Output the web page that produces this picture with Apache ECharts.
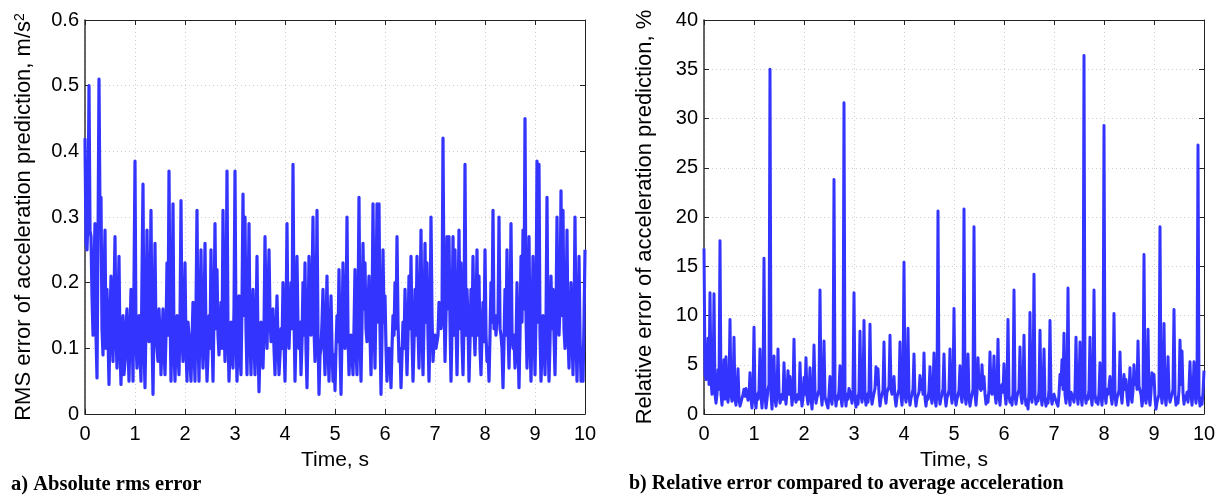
<!DOCTYPE html>
<html>
<head>
<meta charset="utf-8">
<script src="https://cdn.jsdelivr.net/npm/echarts@6/dist/echarts.min.js"></script>
<style>
html,body{margin:0;padding:0;background:#fff;}
#chart{width:1225px;height:496px;}
</style>
</head>
<body>
<div id="chart"></div>
<script>
// sample spacing of both records, seconds
const timeStep = 0.02;

// a) RMS error of acceleration prediction, m/s^2 (one value per sample, 0 ... 10 s)
const rmsError = [
  0.42,0.26, 0.25,0.30, 0.50,0.28, 0.27,0.18, 0.12,0.22, 0.29,0.12, 0.055,0.26, 0.51,0.30, 0.33,0.13, 0.09,0.20,
  0.28,0.10, 0.19,0.12, 0.045,0.14, 0.21,0.12, 0.08,0.18, 0.27,0.12, 0.07,0.16, 0.24,0.10, 0.045,0.12, 0.15,0.06,
  0.08,0.13, 0.16,0.10, 0.05,0.12, 0.19,0.14, 0.05,0.20, 0.385,0.11, 0.07,0.12, 0.15,0.09, 0.05,0.21, 0.35,0.10,
  0.04,0.14, 0.28,0.14, 0.11,0.18, 0.31,0.12, 0.03,0.14, 0.26,0.12, 0.10,0.08, 0.16,0.12, 0.06,0.11, 0.16,0.10,
  0.06,0.12, 0.23,0.12, 0.37,0.16, 0.05,0.13, 0.32,0.10, 0.05,0.11, 0.15,0.09, 0.06,0.14, 0.325,0.12, 0.08,0.13,
  0.23,0.10, 0.05,0.14, 0.12,0.08, 0.05,0.11, 0.17,0.10, 0.05,0.16, 0.31,0.12, 0.05,0.14, 0.25,0.12, 0.07,0.14,
  0.26,0.11, 0.05,0.09, 0.15,0.10, 0.25,0.12, 0.05,0.15, 0.29,0.13, 0.22,0.12, 0.09,0.13, 0.17,0.10, 0.31,0.14,
  0.08,0.16, 0.37,0.12, 0.05,0.10, 0.14,0.09, 0.07,0.16, 0.37,0.12, 0.05,0.11, 0.18,0.09, 0.06,0.17, 0.335,0.15,
  0.30,0.13, 0.06,0.15, 0.29,0.12, 0.06,0.14, 0.19,0.11, 0.06,0.13, 0.24,0.11, 0.034,0.10, 0.14,0.09, 0.07,0.13,
  0.27,0.16, 0.10,0.17, 0.25,0.15, 0.11,0.13, 0.16,0.10, 0.06,0.12, 0.18,0.11, 0.06,0.09, 0.13,0.10, 0.20,0.11,
  0.05,0.14, 0.29,0.12, 0.10,0.15, 0.20,0.13, 0.38,0.15, 0.05,0.12, 0.24,0.13, 0.10,0.14, 0.06,0.11, 0.20,0.12,
  0.23,0.10, 0.04,0.13, 0.24,0.14, 0.12,0.19, 0.30,0.13, 0.08,0.14, 0.31,0.12, 0.03,0.09, 0.10,0.14, 0.19,0.11,
  0.06,0.13, 0.21,0.10, 0.05,0.12, 0.18,0.10, 0.05,0.09, 0.036,0.10, 0.15,0.11, 0.22,0.10, 0.03,0.12, 0.23,0.15,
  0.10,0.14, 0.30,0.12, 0.06,0.10, 0.12,0.09, 0.06,0.13, 0.22,0.10, 0.06,0.15, 0.33,0.12, 0.05,0.14, 0.26,0.16,
  0.23,0.13, 0.11,0.16, 0.21,0.12, 0.06,0.14, 0.32,0.15, 0.07,0.18, 0.32,0.14, 0.32,0.13, 0.03,0.12, 0.25,0.14,
  0.18,0.10, 0.05,0.09, 0.10,0.08, 0.04,0.10, 0.15,0.12, 0.20,0.13, 0.27,0.14, 0.08,0.10, 0.04,0.09, 0.14,0.10,
  0.19,0.12, 0.06,0.12, 0.21,0.13, 0.24,0.12, 0.05,0.11, 0.19,0.12, 0.24,0.13, 0.07,0.15, 0.28,0.13, 0.06,0.14,
  0.26,0.14, 0.23,0.12, 0.05,0.13, 0.30,0.15, 0.08,0.11, 0.12,0.10, 0.10,0.12, 0.17,0.14, 0.13,0.15, 0.42,0.18,
  0.08,0.15, 0.27,0.16, 0.27,0.14, 0.05,0.13, 0.27,0.12, 0.25,0.14, 0.06,0.15, 0.28,0.13, 0.23,0.11, 0.06,0.14,
  0.38,0.12, 0.19,0.14, 0.05,0.11, 0.19,0.12, 0.24,0.13, 0.09,0.15, 0.25,0.12, 0.21,0.10, 0.06,0.12, 0.17,0.11,
  0.25,0.12, 0.08,0.10, 0.05,0.12, 0.20,0.14, 0.31,0.13, 0.15,0.12, 0.15,0.14, 0.30,0.13, 0.12,0.10, 0.04,0.11,
  0.19,0.12, 0.25,0.13, 0.07,0.14, 0.29,0.12, 0.10,0.12, 0.07,0.10, 0.20,0.11, 0.04,0.12, 0.24,0.14, 0.28,0.16,
  0.45,0.15, 0.07,0.14, 0.27,0.12, 0.05,0.13, 0.24,0.14, 0.06,0.15, 0.385,0.14, 0.38,0.12, 0.05,0.10, 0.15,0.11,
  0.06,0.14, 0.33,0.12, 0.05,0.11, 0.21,0.13, 0.19,0.12, 0.06,0.15, 0.30,0.14, 0.12,0.16, 0.34,0.15, 0.31,0.13,
  0.10,0.14, 0.28,0.12, 0.07,0.13, 0.20,0.12, 0.06,0.14, 0.30,0.12, 0.05,0.13, 0.24,0.12, 0.05,0.10, 0.05,0.14,
  0.25
];

// b) Relative error of acceleration prediction, % (one value per sample, 0 ... 10 s)
const relError = [
  16.8,4.0, 3.5,5.0, 7.7,3.0, 12.3,3.5, 2.0,2.5, 12.2,2.0, 1.1,2.0, 4.5,2.5, 17.6,2.0, 0.9,2.5,
  5.5,1.5, 5.8,2.0, 1.2,2.5, 9.6,2.0, 1.3,2.0, 7.8,1.5, 0.9,2.0, 4.6,1.5, 0.8,1.2, 1.6,2.0,
  2.5,1.8, 2.6,2.4, 1.4,1.8, 4.2,1.5, 0.6,2.0, 8.8,1.5, 0.6,2.0, 1.5,2.5, 6.6,1.8, 0.6,2.2,
  15.8,2.0, 0.6,1.5, 2.5,3.0, 35.0,2.0, 0.5,2.5, 5.9,1.6, 0.8,2.0, 6.6,2.2, 1.1,1.6, 2.0,1.5,
  5.2,2.0, 1.0,2.2, 4.4,2.0, 3.8,2.5, 0.9,2.0, 7.6,1.8, 1.2,1.6, 2.0,1.5, 5.2,2.0, 0.8,1.6,
  3.7,2.0, 5.7,1.8, 1.0,2.2, 4.7,1.6, 0.5,2.0, 7.0,2.4, 1.1,1.7, 2.0,2.5, 12.6,2.0, 0.9,2.2,
  7.4,1.8, 1.3,1.5, 0.6,2.0, 3.8,1.6, 1.0,2.5, 23.8,2.0, 0.8,1.8, 1.5,2.4, 4.9,1.6, 0.8,2.2,
  31.6,2.0, 0.8,2.0, 1.5,2.6, 2.5,1.8, 1.1,2.5, 12.3,1.6, 0.7,1.8, 1.0,2.4, 8.4,2.0, 1.2,2.2,
  9.5,1.8, 0.9,2.0, 1.2,2.5, 9.1,2.0, 1.0,1.6, 1.5,2.6, 4.8,3.0, 4.6,2.0, 0.8,1.6, 1.5,2.4,
  7.3,1.8, 1.1,2.2, 2.0,2.8, 8.0,2.5, 2.0,2.6, 3.8,1.6, 0.8,1.7, 1.5,2.5, 7.3,1.8, 0.9,2.4,
  15.4,2.0, 1.2,2.6, 8.7,1.8, 0.9,1.6, 2.0,2.5, 6.1,1.8, 0.8,1.6, 1.5,2.2, 3.9,2.5, 3.5,2.0,
  6.2,1.6, 0.8,1.8, 1.5,2.4, 4.8,1.8, 1.1,2.5, 6.2,1.6, 0.8,2.2, 20.6,2.0, 1.0,1.6, 2.0,2.6,
  6.1,1.8, 0.8,1.6, 1.5,2.4, 6.6,2.0, 1.1,2.2, 10.7,1.8, 0.9,1.5, 1.5,2.4, 4.9,1.8, 1.2,2.5,
  20.8,2.0, 1.0,2.5, 6.1,1.6, 0.8,1.5, 1.3,2.5, 19.0,2.0, 0.9,2.2, 5.7,2.8, 3.0,2.4, 5.0,2.6,
  3.8,2.0, 1.0,1.8, 1.2,2.5, 6.3,2.4, 2.0,2.8, 5.9,2.0, 1.1,2.2, 7.6,1.8, 0.9,2.5, 3.0,2.2,
  5.1,2.0, 1.0,2.6, 9.6,1.8, 1.2,1.6, 0.9,2.2, 12.6,2.0, 1.0,1.8, 2.0,2.5, 6.8,1.8, 1.1,2.4,
  8.0,1.8, 0.9,1.4, 0.5,2.2, 10.3,1.8, 1.2,2.4, 14.2,2.0, 1.0,1.6, 1.3,2.4, 8.5,1.8, 0.9,2.2,
  6.6,1.6, 0.8,1.5, 1.1,2.5, 9.5,1.8, 1.0,1.6, 2.0,1.8, 1.3,1.2, 0.8,2.0, 4.0,3.0, 5.5,2.5,
  8.2,2.0, 1.1,2.6, 12.8,1.8, 0.9,2.2, 2.0,1.6, 1.2,2.4, 7.8,2.0, 1.0,2.5, 7.3,1.8, 0.9,2.2,
  36.4,2.0, 1.1,1.8, 1.5,2.5, 7.8,1.8, 0.9,2.4, 12.6,2.0, 1.2,1.6, 1.0,2.2, 5.2,1.8, 0.9,2.4,
  29.3,2.0, 1.1,2.5, 2.0,2.8, 3.8,1.8, 1.0,2.2, 10.2,2.0, 0.9,1.6, 1.5,2.4, 6.3,2.0, 1.1,2.6,
  4.0,2.5, 3.5,1.8, 0.9,2.2, 4.7,1.8, 1.2,2.4, 5.0,3.0, 4.0,2.5, 7.4,2.8, 3.0,2.0, 0.8,1.6,
  16.2,2.0, 1.1,2.4, 8.6,1.8, 0.9,2.2, 4.2,3.0, 4.0,1.6, 0.5,1.2, 1.0,2.0, 19.0,2.2, 1.1,2.4,
  9.2,1.8, 0.9,2.2, 5.8,2.0, 1.2,1.6, 1.5,2.5, 10.6,2.0, 0.9,1.6, 1.1,2.4, 7.5,3.0, 6.4,2.2,
  1.0,1.8, 1.5,2.2, 1.2,2.6, 5.3,2.0, 0.9,2.2, 5.3,2.0, 1.1,2.4, 27.3,2.0, 0.8,1.6, 1.0,2.2,
  4.4
];

const xTicks = { min: 0, max: 10, interval: 1 };
const leftY = { min: 0, max: 0.6, interval: 0.1 };
const rightY = { min: 0, max: 40, interval: 5 };

const xName = 'Time, s';
const leftYName = '{n|RMS error of acceleration prediction, m/s}{s|2}';
const rightYName = 'Relative error of acceleration prediction, %';
const captionA = 'a) Absolute rms error';
const captionB = 'b) Relative error compared to average acceleration';

const FONT = '"Liberation Sans", Arial, Helvetica, sans-serif';
const LINE_BLUE = '#3434ff';

function toPairs(vals) {
  return vals.map((v, i) => [+(i * timeStep).toFixed(2), v]);
}

function mainX(gridIndex) {
  return {
    type: 'value', gridIndex, position: 'bottom',
    min: xTicks.min, max: xTicks.max, interval: xTicks.interval,
    name: xName, nameLocation: 'middle', nameGap: 36,
    nameTextStyle: { fontFamily: FONT, fontSize: 21, color: '#000' },
    axisLine: { show: true, onZero: false, lineStyle: { color: '#222', width: 1 } },
    axisTick: { show: true, inside: true, length: 5, lineStyle: { color: '#222' } },
    axisLabel: { fontFamily: FONT, fontSize: 20, color: '#000', margin: 10 },
    splitLine: { show: true, lineStyle: { color: '#cfcfcf', type: [1, 3], width: 1 } }
  };
}
function topX(gridIndex) {
  return {
    type: 'value', gridIndex, position: 'top',
    min: xTicks.min, max: xTicks.max, interval: xTicks.interval,
    axisLine: { show: true, onZero: false, lineStyle: { color: '#222', width: 1 } },
    axisTick: { show: true, inside: true, length: 5, lineStyle: { color: '#222' } },
    axisLabel: { show: false }, splitLine: { show: false }
  };
}
function mainY(gridIndex, rng, name, nameGap) {
  return {
    type: 'value', gridIndex, position: 'left',
    min: rng.min, max: rng.max, interval: rng.interval,
    name, nameLocation: 'middle', nameGap,
    nameTextStyle: {
      fontFamily: FONT, fontSize: 22, color: '#000',
      rich: {
        n: { fontFamily: FONT, fontSize: 22, color: '#000' },
        s: { fontFamily: FONT, fontSize: 14, color: '#000', verticalAlign: 'top' }
      }
    },
    axisLine: { show: true, onZero: false, lineStyle: { color: '#333', width: 1.5 } },
    axisTick: { show: true, inside: true, length: 5, lineStyle: { color: '#222' } },
    axisLabel: { fontFamily: FONT, fontSize: 20, color: '#000', margin: 6 },
    splitLine: { show: true, lineStyle: { color: '#cfcfcf', type: [1, 3], width: 1 } }
  };
}
function rightYAx(gridIndex, rng) {
  return {
    type: 'value', gridIndex, position: 'right',
    min: rng.min, max: rng.max, interval: rng.interval,
    axisLine: { show: true, onZero: false, lineStyle: { color: '#222', width: 1 } },
    axisTick: { show: true, inside: true, length: 5, lineStyle: { color: '#222' } },
    axisLabel: { show: false }, splitLine: { show: false }
  };
}

const chart = echarts.init(document.getElementById('chart'), null, { renderer: 'canvas' });
chart.setOption({
  animation: false,
  backgroundColor: '#fff',
  grid: [
    { left: 85, right: 640, top: 20, bottom: 82 },
    { left: 704, right: 21, top: 20, bottom: 82 }
  ],
  xAxis: [mainX(0), topX(0), mainX(1), topX(1)],
  yAxis: [
    mainY(0, leftY, leftYName, 50), rightYAx(0, leftY),
    mainY(1, rightY, rightYName, 48), rightYAx(1, rightY)
  ],
  series: [
    {
      type: 'line', xAxisIndex: 0, yAxisIndex: 0, data: toPairs(rmsError),
      showSymbol: false, symbol: 'none', sampling: null,
      lineStyle: { color: LINE_BLUE, width: 3.2, join: 'round' }
    },
    {
      type: 'line', xAxisIndex: 2, yAxisIndex: 2, data: toPairs(relError),
      showSymbol: false, symbol: 'none', sampling: null,
      lineStyle: { color: LINE_BLUE, width: 3, join: 'round' }
    }
  ],
  graphic: [
    { type: 'text', left: 11, top: 474,
      style: { text: captionA, font: 'bold 20.5px "Liberation Serif", "Times New Roman", serif', fill: '#000' } },
    { type: 'text', left: 629, top: 474,
      style: { text: captionB, font: 'bold 20px "Liberation Serif", "Times New Roman", serif', fill: '#000' } }
  ]
});
</script>
</body>
</html>
